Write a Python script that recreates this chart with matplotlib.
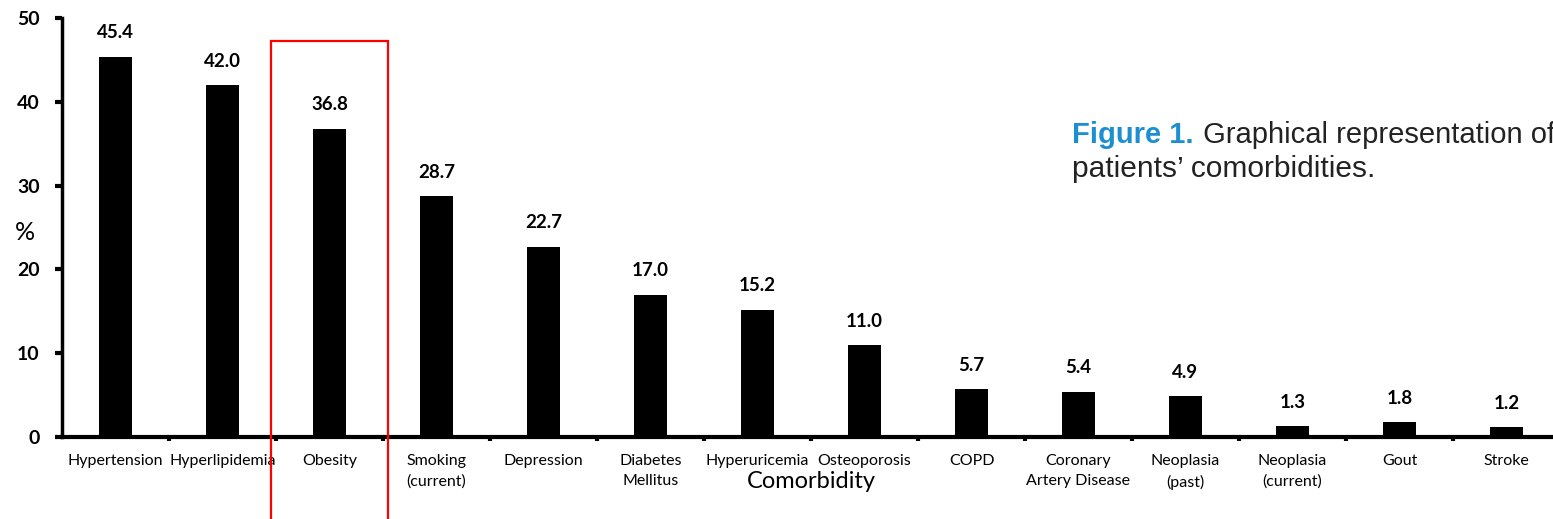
import matplotlib.pyplot as plt
from matplotlib.patches import Rectangle

plt.rcParams["font.family"] = ["Lato", "DejaVu Sans"]

# Comorbidity prevalence (%)
comorbidities = [
    "Hypertension", "Hyperlipidemia", "Obesity", "Smoking\n(current)",
    "Depression", "Diabetes\nMellitus", "Hyperuricemia", "Osteoporosis",
    "COPD", "Coronary\nArtery Disease", "Neoplasia\n(past)",
    "Neoplasia\n(current)", "Gout", "Stroke",
]
percent = [45.4, 42.0, 36.8, 28.7, 22.7, 17.0, 15.2, 11.0, 5.7, 5.4, 4.9, 1.3, 1.8, 1.2]
y_ticks = [0, 10, 20, 30, 40, 50]

W, H = 1553, 519
fig = plt.figure(figsize=(W / 100, H / 100), dpi=100)

# axes runs a little past the right edge, like the cropped original
ax = fig.add_axes([62 / W, 82 / H, 1498 / W, 419 / H])

xs = range(len(comorbidities))
bars = ax.bar(xs, percent, width=0.31, color="black", zorder=2)
ax.bar_label(bars, fmt="%.1f", padding=11, fontsize=13.5, fontweight="bold")

ax.set_xlim(-0.5, len(comorbidities) - 0.5)
ax.set_ylim(0, 50)
ax.set_yticks(y_ticks)
ax.set_yticklabels([str(v) for v in y_ticks], fontsize=14, fontweight="bold")
ax.tick_params(axis="y", length=5, width=3, pad=11)

ax.set_xticks(list(xs))
ax.set_xticklabels(comorbidities, fontsize=11.5, linespacing=1.6)
ax.set_xticks([i + 0.5 for i in xs], minor=True)
ax.tick_params(axis="x", which="major", length=0, pad=12)
ax.tick_params(axis="x", which="minor", length=3, width=3)

for s in ["top", "right"]:
    ax.spines[s].set_visible(False)
ax.spines["left"].set_linewidth(2.5)
ax.spines["bottom"].set_linewidth(3)

ax.set_xlabel("Comorbidity", fontsize=17)
ax.xaxis.set_label_coords(0.5, -0.08)
ax.set_ylabel("%", fontsize=18, rotation=0)
ax.yaxis.set_label_coords(-0.025, 0.46)

# red highlight box around Obesity (figure pixels)
fig.add_artist(Rectangle((271 / W, -0.05), 117 / W, (519 - 41) / H + 0.05,
                         transform=fig.transFigure, fill=False,
                         edgecolor="#ff0000", linewidth=1.6, clip_on=False))

# caption (cropped at the right edge in the original too)
cap_font = ["Liberation Sans", "DejaVu Sans"]
t1 = fig.text(1072 / W, (H - 143) / H, "Figure 1.", fontsize=21, fontweight="bold",
              color="#1b8fd2", family=cap_font, va="baseline")
ax.annotate(" Graphical representation of", xy=(1, 0), xycoords=t1,
            xytext=(1, 0), textcoords="offset points", fontsize=21,
            family=cap_font, color="#222222", va="bottom", ha="left",
            annotation_clip=False)
fig.text(1072 / W, (H - 177) / H, "patients\u2019 comorbidities.", fontsize=21.5,
         family=cap_font, color="#222222", va="baseline")

fig.savefig("out.png", dpi=100)
